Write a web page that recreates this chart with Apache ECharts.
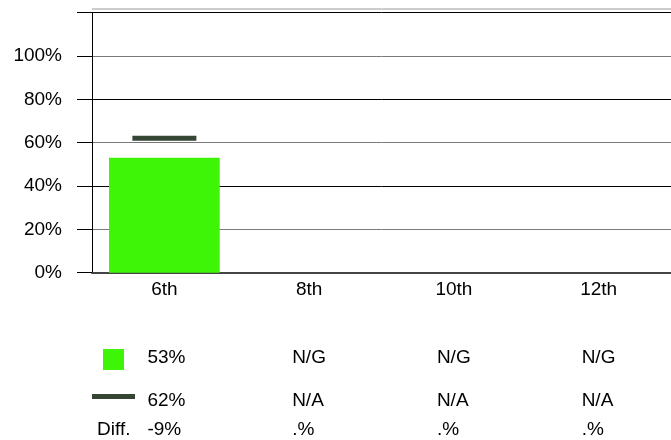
<!DOCTYPE html>
<html><head><meta charset="utf-8">
<script src="https://cdn.jsdelivr.net/npm/echarts@6/dist/echarts.min.js"></script>
<style>html,body{margin:0;padding:0;background:#fff}#c{width:671px;height:440px}</style>
</head><body><div id="c"></div>
<script>
var categories = ['6th', '8th', '10th', '12th'];
var barValues = [53, null, null, null];
var markerValues = [62, null, null, null];
var barLabels = ['53%', 'N/G', 'N/G', 'N/G'];
var markerLabels = ['62%', 'N/A', 'N/A', 'N/A'];
var diffLabels = ['-9%', '.%', '.%', '.%'];
var yTicks = [0, 20, 40, 60, 80, 100, 120];

var FONT = 'Liberation Sans, Arial, sans-serif';
var FS = 19;
var chart = echarts.init(document.getElementById('c'), null, {renderer: 'canvas'});
var option = {
  animation: false,
  grid: {left: 92, top: 12.7, right: 0, bottom: 167.3, containLabel: false},
  xAxis: {
    type: 'category', data: categories,
    axisLine: {show: true, lineStyle: {color: '#444', width: 2}},
    axisTick: {show: false},
    axisLabel: {color: '#000', fontFamily: FONT, fontSize: FS, margin: 8},
    splitLine: {show: false}
  },
  yAxis: {
    type: 'value', min: 0, max: 120, interval: 20,
    axisLine: {show: true, lineStyle: {color: '#000', width: 1}},
    axisTick: {show: true, inside: false, length: 15, lineStyle: {color: '#000'}},
    axisLabel: {color: '#000', fontFamily: FONT, fontSize: FS, margin: 30,
      formatter: function (v) { return v === 120 ? '' : v + '%'; }},
    splitLine: {show: true, lineStyle: {color: ['#000', '#7a7a7a'], width: 1}}
  },
  series: [
    {type: 'bar', data: barValues, barWidth: '76.5%', itemStyle: {color: '#3ef507'}, z: 2},
    {type: 'scatter', data: markerValues, symbol: 'rect', symbolSize: [64, 5],
      itemStyle: {color: '#354635', opacity: 1}, z: 3}
  ]
};
chart.setOption(option);

var g = [];
g.push({type: 'line', shape: {x1: 92, y1: 9, x2: 671, y2: 9}, style: {stroke: '#999', lineWidth: 1}});
var rowsY = [358, 401, 430];
var rows = [barLabels, markerLabels, diffLabels];
for (var i = 0; i < categories.length; i++) {
  var cx = chart.convertToPixel({xAxisIndex: 0}, categories[i]);
  for (var r = 0; r < rows.length; r++) {
    g.push({type: 'text', x: cx - 17, y: rowsY[r],
      style: {text: rows[r][i], fill: '#000', font: FS + 'px ' + FONT, textAlign: 'left', textVerticalAlign: 'middle'}});
  }
}
g.push({type: 'rect', shape: {x: 103, y: 349, width: 21, height: 21}, style: {fill: '#3ef507'}});
g.push({type: 'rect', shape: {x: 92, y: 394, width: 43, height: 5}, style: {fill: '#354635'}});
g.push({type: 'text', x: 97, y: rowsY[2], style: {text: 'Diff.', fill: '#000', font: FS + 'px ' + FONT, textAlign: 'left', textVerticalAlign: 'middle'}});
chart.setOption({graphic: g});
</script></body></html>
